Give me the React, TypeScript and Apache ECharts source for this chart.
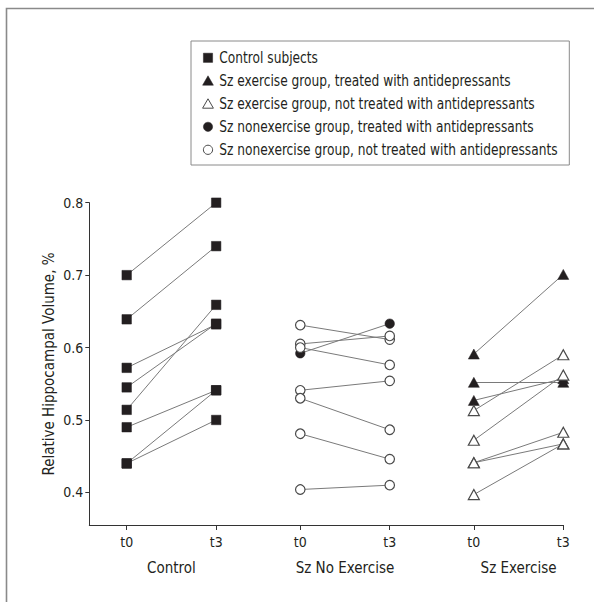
import React, { useEffect, useRef } from "react";
import * as echarts from "echarts";

// ---- data ----
const timepoints = ["t0", "t3"];
const groups = ["Control", "Sz No Exercise", "Sz Exercise"];
const legendNames = [
  "Control subjects",
  "Sz exercise group, treated with antidepressants",
  "Sz exercise group, not treated with antidepressants",
  "Sz nonexercise group, treated with antidepressants",
  "Sz nonexercise group, not treated with antidepressants",
];
const yTicks = [0.4, 0.5, 0.6, 0.7, 0.8];
const yTitle = "Relative Hippocampal Volume, %";

const controlT0 = [0.7, 0.639, 0.572, 0.545, 0.514, 0.49, 0.44, 0.44];
const controlT3 = [0.8, 0.74, 0.632, 0.633, 0.659, 0.541, 0.541, 0.5];

const noExTreatedT0 = [0.592];
const noExTreatedT3 = [0.633];
const noExUntreatedT0 = [0.631, 0.605, 0.6, 0.541, 0.53, 0.481, 0.404];
const noExUntreatedT3 = [0.611, 0.616, 0.576, 0.554, 0.4865, 0.446, 0.41];

const exTreatedT0 = [0.591, 0.552, 0.527];
const exTreatedT3 = [0.701, 0.552, 0.557];
const exUntreatedT0 = [0.513, 0.472, 0.441, 0.441, 0.397];
const exUntreatedT3 = [0.59, 0.562, 0.483, 0.467, 0.467];

// ---- layout constants ----
const groupOffsets = [0, 1.94, 3.88];
const FONT = "'Liberation Sans Narrow', 'DejaVu Sans Condensed', Arial, sans-serif";
const INK = "#231f20";

function pts(off: number, a: number[], b: number[]) {
  const out: number[][] = [];
  a.forEach((v) => out.push([off, v]));
  b.forEach((v) => out.push([off + 1, v]));
  return out;
}
function segs(off: number, a: number[], b: number[]) {
  return a.map((v, i) => ({ coords: [[off, v], [off + 1, b[i]]] }));
}

export default function App() {
  const ref = useRef<HTMLDivElement>(null);
  useEffect(() => {
    if (!ref.current) return;
    const chart = echarts.init(ref.current, null, { renderer: "svg" });
    const tickPos: number[] = [];
    groupOffsets.forEach((o) => timepoints.forEach((_, i) => tickPos.push(o + i)));
    const centers = groupOffsets.map((o) => o + 0.5);
    const xMin = -0.418;
    const xMax = groupOffsets[2] + 1;

    const openStyle = { color: "#ffffff", borderColor: "#4a4a4a", borderWidth: 1.2, opacity: 1 };
    const fillStyle = { color: INK, borderColor: INK, borderWidth: 0.5, opacity: 1 };

    const lineData = [
      ...segs(groupOffsets[0], controlT0, controlT3),
      ...segs(groupOffsets[1], noExTreatedT0, noExTreatedT3),
      ...segs(groupOffsets[1], noExUntreatedT0, noExUntreatedT3),
      ...segs(groupOffsets[2], exTreatedT0, exTreatedT3),
      ...segs(groupOffsets[2], exUntreatedT0, exUntreatedT3),
    ];

    // legend drawn as graphic (condensed text)
    const lx = 208;
    const ly0 = 57.8;
    const lgap = 23;
    const legendGraphics: any[] = [];
    legendNames.forEach((name, i) => {
      const cy = ly0 + i * lgap;
      const filled = i === 0 || i === 1 || i === 3;
      const style = filled
        ? { fill: INK, stroke: INK, lineWidth: 0.5 }
        : { fill: "#fff", stroke: "#4a4a4a", lineWidth: 1 };
      if (i === 0) {
        legendGraphics.push({ type: "rect", shape: { x: lx - 4.6, y: cy - 4.6, width: 9.2, height: 9.2 }, style });
      } else if (i === 1 || i === 2) {
        legendGraphics.push({
          type: "polygon",
          shape: { points: [[lx, cy - 5], [lx - 5.4, cy + 4.4], [lx + 5.4, cy + 4.4]] },
          style,
        });
      } else {
        legendGraphics.push({ type: "circle", shape: { cx: lx, cy, r: 4.6 }, style });
      }
      legendGraphics.push({
        type: "text",
        x: 219.3,
        y: cy,
        scaleX: 0.906,
        style: {
          text: name,
          fill: INK,
          font: `15px ${FONT}`,
          verticalAlign: "middle",
          align: "left",
        },
      });
    });

    chart.setOption({
      animation: false,
      textStyle: { fontFamily: FONT },
      grid: { left: 89.3, right: 594 - 563.3, top: 202.7, bottom: 602 - 525, containLabel: false },
      graphic: [
        {
          type: "rect",
          shape: { x: 6.5, y: 8.5, width: 1000, height: 1000 },
          style: { fill: "none", stroke: "#8a8a8a", lineWidth: 1.6 },
          silent: true,
        },
        {
          type: "rect",
          shape: { x: 191, y: 41, width: 378.3, height: 124 },
          style: { fill: "none", stroke: "#8a8a8a", lineWidth: 1 },
          silent: true,
        },
        ...legendGraphics,
        {
          type: "text",
          x: 48.5,
          y: 364,
          rotation: Math.PI / 2,
          style: {
            text: yTitle,
            fill: INK,
            font: `15px ${FONT}`,
            align: "center",
            verticalAlign: "middle",
          },
        },
      ],
      xAxis: [
        {
          type: "value",
          min: xMin,
          max: xMax,
          splitLine: { show: false },
          axisLine: { show: true, onZero: false, lineStyle: { color: "#333", width: 1 } },
          axisTick: { show: true, customValues: tickPos, length: 5, lineStyle: { color: "#333" } },
          axisLabel: {
            customValues: tickPos,
            margin: 10,
            fontSize: 14,
            fontFamily: FONT,
            color: INK,
            formatter: (v: number) => {
              const i = tickPos.findIndex((p) => Math.abs(p - v) < 1e-6);
              return i >= 0 ? timepoints[i % 2] : "";
            },
          },
        },
        {
          type: "value",
          min: xMin,
          max: xMax,
          position: "bottom",
          offset: 27,
          splitLine: { show: false },
          axisLine: { show: false },
          axisTick: { show: false },
          axisLabel: {
            customValues: centers,
            margin: 8,
            fontSize: 15,
            fontFamily: FONT,
            color: INK,
            formatter: (v: number) => {
              const i = centers.findIndex((p) => Math.abs(p - v) < 1e-6);
              return i >= 0 ? groups[i] : "";
            },
          },
        },
      ],
      yAxis: {
        type: "value",
        min: 0.355,
        max: 0.8,
        splitLine: { show: false },
        axisLine: { show: true, onZero: false, lineStyle: { color: "#333", width: 1 } },
        axisTick: { show: true, customValues: yTicks, length: 4, lineStyle: { color: "#333" } },
        axisLabel: {
          customValues: yTicks,
          margin: 6,
          fontSize: 14,
          fontFamily: FONT,
          color: INK,
          formatter: (v: number) => v.toFixed(1),
        },
      },
      series: [
        {
          type: "lines",
          coordinateSystem: "cartesian2d",
          xAxisIndex: 0,
          yAxisIndex: 0,
          silent: true,
          z: 1,
          lineStyle: { color: "#7a7a7a", width: 1, opacity: 1 },
          data: lineData,
        },
        {
          name: legendNames[0],
          type: "scatter",
          symbol: "rect",
          symbolSize: 9.5,
          z: 3,
          clip: false,
          itemStyle: fillStyle,
          data: pts(groupOffsets[0], controlT0, controlT3),
        },
        {
          name: legendNames[1],
          type: "scatter",
          symbol: "triangle",
          symbolSize: [11, 10],
          z: 3,
          clip: false,
          itemStyle: fillStyle,
          data: pts(groupOffsets[2], exTreatedT0, exTreatedT3),
        },
        {
          name: legendNames[2],
          type: "scatter",
          symbol: "triangle",
          symbolSize: [11, 10],
          z: 4,
          clip: false,
          itemStyle: openStyle,
          data: pts(groupOffsets[2], exUntreatedT0, exUntreatedT3),
        },
        {
          name: legendNames[3],
          type: "scatter",
          symbol: "circle",
          symbolSize: 9.5,
          z: 3,
          clip: false,
          itemStyle: fillStyle,
          data: pts(groupOffsets[1], noExTreatedT0, noExTreatedT3),
        },
        {
          name: legendNames[4],
          type: "scatter",
          symbol: "circle",
          symbolSize: 9.5,
          z: 4,
          clip: false,
          itemStyle: openStyle,
          data: pts(groupOffsets[1], noExUntreatedT0, noExUntreatedT3),
        },
      ],
    });
    return () => chart.dispose();
  }, []);
  return (
    <div
      ref={ref}
      style={{ position: "fixed", left: 0, top: 0, width: 594, height: 602, background: "#fff" }}
    />
  );
}
